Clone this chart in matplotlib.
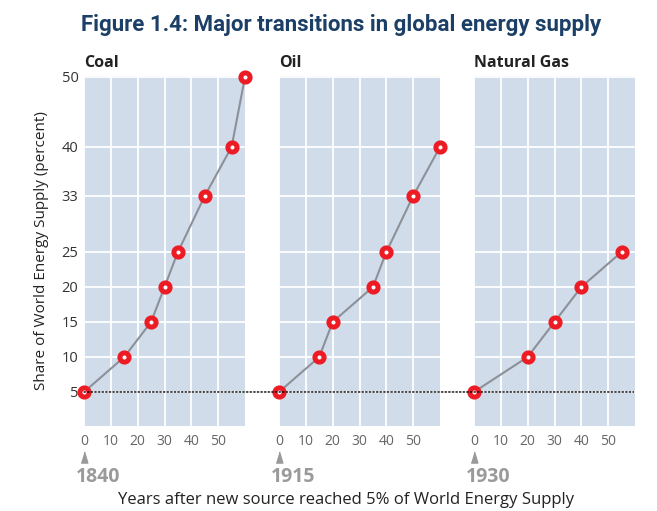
import matplotlib.pyplot as plt
from matplotlib.patches import ConnectionPatch

plt.rcParams['font.family'] = ['Open Sans', 'DejaVu Sans']

panels = ['Coal', 'Oil', 'Natural Gas']
start_years = ['1840', '1915', '1930']

coal_years = [0, 15, 25, 30, 35, 45, 55, 60]
coal_share = [5, 10, 15, 20, 25, 33, 40, 50]
oil_years = [0, 15, 20, 35, 40, 50, 60]
oil_share = [5, 10, 15, 20, 25, 33, 40]
gas_years = [0, 20, 30, 40, 55]
gas_share = [5, 10, 15, 20, 25]

y_ticks = [5, 10, 15, 20, 25, 33, 40, 50]
x_ticks = [0, 10, 20, 30, 40, 50]

series = [(coal_years, coal_share), (oil_years, oil_share), (gas_years, gas_share)]

bg = '#d0dce9'
red = '#ed1c24'
line_gray = '#8c9199'
tri = [(-0.6, -1), (0.6, -1), (0, 1)]

fig = plt.figure(figsize=(6.57, 5.11), dpi=100)
lefts = [84 / 657, 279 / 657, 474 / 657]
axes = []
for i, left in enumerate(lefts):
    ax = fig.add_axes([left, 1 - 426 / 511, 161 / 657, 350 / 511])
    axes.append(ax)
    ax.set_facecolor(bg)
    ax.set_xlim(0, 60)
    ax.set_ylim(0.14, 50.14)
    for s in ax.spines.values():
        s.set_visible(False)
    ax.set_xticks(x_ticks)
    ax.set_yticks(y_ticks)
    ax.grid(True, color='white', linewidth=1.3)
    ax.set_axisbelow(True)
    ax.tick_params(length=0, labelsize=10, labelcolor='#666666', pad=6)
    ax.tick_params(axis='y', labelcolor='#333333', labelsize=10.5, pad=4)
    if i > 0:
        ax.set_yticklabels([])

    x, y = series[i]
    ax.plot(x, y, color=line_gray, linewidth=1.5, zorder=3, clip_on=False)
    ax.plot(x, y, linestyle='none', marker='o', markersize=6.6,
            markerfacecolor='white', markeredgecolor=red,
            markeredgewidth=3.6, zorder=4, clip_on=False)

    ax.text(0, 1.015, panels[i], transform=ax.transAxes, fontsize=11.5,
            fontweight='bold', color='#222222', ha='left', va='bottom')

    tr = ax.get_xaxis_transform()
    ax.plot([0], [-0.089], marker=tri, markersize=8, color='#999999',
            transform=tr, clip_on=False)
    ax.text(-3.2, -0.145, start_years[i], transform=tr, fontsize=14,
            fontweight='bold', color='#9a9a9a', ha='left', va='center')

# dotted 5% reference line across all panels
con = ConnectionPatch(xyA=(0, 5), coordsA=axes[0].transData,
                      xyB=(59.5, 5), coordsB=axes[2].transData,
                      linestyle=(0, (1, 1.6)), color='black', linewidth=1, zorder=2)
fig.add_artist(con)

axes[0].set_ylabel('Share of World Energy Supply (percent)', fontsize=11,
                   color='#222222', labelpad=9)

fig.text(0.527, 1 - 500 / 511, 'Years after new source reached 5% of World Energy Supply',
         fontsize=12, color='#222222', ha='center', va='center')

fig.text(0.519, 1 - 25 / 511, 'Figure 1.4: Major transitions in global energy supply',
         fontsize=16, fontweight='bold', color='#1b3f66', ha='center', va='center',
         family=['Roboto', 'DejaVu Sans'])

fig.savefig('out.png', dpi=100)
